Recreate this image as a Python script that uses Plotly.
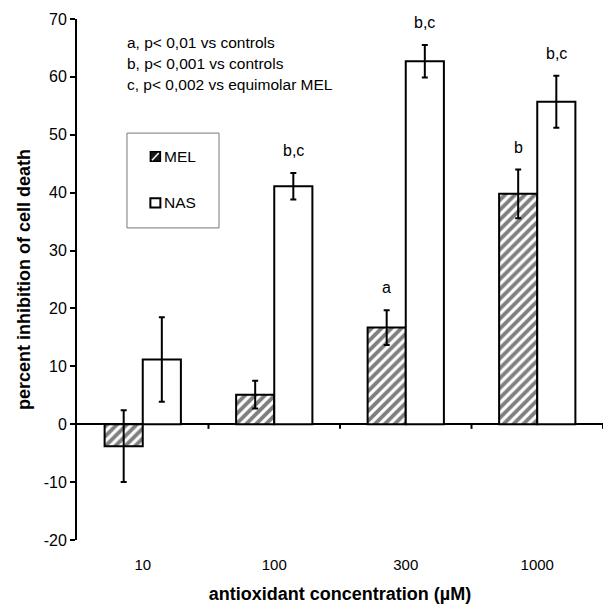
import plotly.graph_objects as go

# Data
concentrations = ["10", "100", "300", "1000"]
mel_values = [-3.8, 5.1, 16.7, 39.8]
mel_errors = [6.2, 2.4, 3.0, 4.2]
nas_values = [11.2, 41.1, 62.7, 55.7]
nas_errors = [7.3, 2.3, 2.8, 4.5]
mel_sig = ["", "", "a", "b"]
nas_sig = ["", "b,c", "b,c", "b,c"]
footnotes = [
    "a, p< 0,01 vs controls",
    "b, p< 0,001 vs controls",
    "c, p< 0,002 vs equimolar MEL",
]
y_ticks = [-20, -10, 0, 10, 20, 30, 40, 50, 60, 70]
y_tick_text = ["-20", "-10", "0", "10", "20", "30", "40", "50", "60", "70"]

FONT = "Arial, Liberation Sans, Helvetica, sans-serif"
BAR_OFFSET_PX = 19  # half of one bar's width in pixels

fig = go.Figure()

err_style = dict(type="data", visible=True, color="black", thickness=2, width=3)

fig.add_trace(go.Bar(
    name="MEL", x=concentrations, y=mel_values,
    error_y=dict(array=mel_errors, **err_style),
    marker=dict(
        color="white",
        line=dict(color="black", width=2),
        pattern=dict(shape="/", fgcolor="black", bgcolor="white", size=7, solidity=0.55),
    ),
    showlegend=False,
))
fig.add_trace(go.Bar(
    name="NAS", x=concentrations, y=nas_values,
    error_y=dict(array=nas_errors, **err_style),
    marker=dict(color="white", line=dict(color="black", width=2)),
    showlegend=False,
))

annotations = []
# significance letters above error bars
for i in range(len(concentrations)):
    for vals, errs, sig, shift in ((mel_values, mel_errors, mel_sig, -BAR_OFFSET_PX),
                                   (nas_values, nas_errors, nas_sig, BAR_OFFSET_PX)):
        if sig[i]:
            annotations.append(dict(
                x=i, y=vals[i] + errs[i], xref="x", yref="y",
                text=sig[i], showarrow=False, xshift=shift, yshift=12,
                yanchor="bottom", xanchor="center",
                font=dict(family=FONT, size=16, color="black"),
            ))

# footnote lines
for k, line in enumerate(footnotes):
    annotations.append(dict(
        x=0.0915, y=0.954 - k * 0.0395, xref="paper", yref="paper",
        text=line, showarrow=False, xanchor="left", yanchor="middle",
        font=dict(family=FONT, size=15.5, color="black"),
    ))

# legend text
for name, yp in (("MEL", 0.736), ("NAS", 0.648)):
    annotations.append(dict(
        x=0.162, y=yp, xref="paper", yref="paper",
        text=name, showarrow=False, xanchor="left", yanchor="middle",
        font=dict(family=FONT, size=15.5, color="black"),
    ))

shapes = []
# legend box
shapes.append(dict(type="rect", xref="paper", yref="paper",
                   x0=0.095, x1=0.27, y0=0.599, y1=0.781,
                   line=dict(color="#777777", width=1), fillcolor="white", layer="below"))
# legend swatches
shapes.append(dict(type="rect", xref="paper", yref="paper",
                   x0=0.1395, x1=0.1585, y0=0.727, y1=0.745,
                   line=dict(color="black", width=1.5), fillcolor="#1a1a1a"))
shapes.append(dict(type="line", xref="paper", yref="paper",
                   x0=0.1425, x1=0.1555, y0=0.729, y1=0.743,
                   line=dict(color="white", width=1.5)))
shapes.append(dict(type="rect", xref="paper", yref="paper",
                   x0=0.1395, x1=0.1585, y0=0.638, y1=0.656,
                   line=dict(color="black", width=2), fillcolor="white"))
# category separator ticks on the zero line
for pos in (0.5, 1.5, 2.5, 3.5):
    shapes.append(dict(type="line", xref="x", yref="y",
                       x0=pos, x1=pos, y0=0, y1=-0.8,
                       line=dict(color="black", width=2)))

fig.update_layout(
    width=603, height=606,
    margin=dict(l=77, r=0, t=19, b=66),
    paper_bgcolor="white", plot_bgcolor="white",
    barmode="group", bargap=0.42, bargroupgap=0,
    font=dict(family=FONT, size=15, color="black"),
    annotations=annotations,
    shapes=shapes,
    xaxis=dict(
        type="category", range=[-0.5, 3.5],
        showline=False, showgrid=False, ticks="",
        tickfont=dict(family=FONT, size=15),
        ticklabelstandoff=14,
        title=dict(text="antioxidant concentration (µM)", standoff=15,
                   font=dict(family=FONT, size=18, weight="bold")),
    ),
    yaxis=dict(
        range=[-20, 70], tickvals=y_ticks, ticktext=y_tick_text,
        showline=True, linecolor="black", linewidth=2,
        ticks="outside", ticklen=5, tickwidth=2, tickcolor="black",
        showgrid=False,
        zeroline=True, zerolinecolor="black", zerolinewidth=2,
        tickfont=dict(family=FONT, size=16),
        title=dict(text="percent inhibition of cell death", standoff=8,
                   font=dict(family=FONT, size=18, weight="bold")),
    ),
)

fig.write_html("out.html")
